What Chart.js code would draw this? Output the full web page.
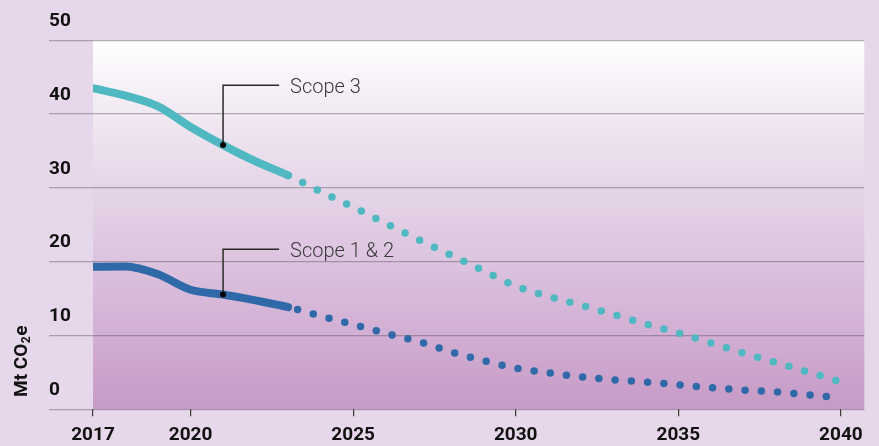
<!DOCTYPE html>
<html>
<head>
<meta charset="utf-8">
<script src="https://cdn.jsdelivr.net/npm/chart.js@4.4.1/dist/chart.umd.min.js"></script>
<style>
  html, body { margin: 0; padding: 0; background: #e7d7ea; }
  #wrap { width: 879px; height: 446px; }
</style>
</head>
<body>
<div id="wrap"><canvas id="emissions" width="879" height="446"></canvas></div>
<script>
// Emissions pathway in Mt CO2e, actuals then target path
const years = [2017, 2018, 2019, 2020, 2021, 2022, 2023, 2024, 2025, 2026, 2027, 2028,
               2029, 2030, 2031, 2032, 2033, 2034, 2035, 2036, 2037, 2038, 2039, 2040];
const scope3 = [43.5, 42.5, 41.05, 38.25, 35.8, 33.6, 31.7, 29.5, 27.4, 25.2, 23.0, 20.9,
                18.8, 16.7, 15.3, 14.1, 12.85, 11.55, 10.35, 9.0, 7.6, 6.35, 5.05, 3.7];
const scope12 = [19.3, 19.35, 18.3, 16.2, 15.55, 14.75, 13.85, 12.65, 11.5, 10.3, 9.2, 7.8,
                 6.6, 5.6, 4.95, 4.4, 4.0, 3.7, 3.3, 2.95, 2.6, 2.35, 1.95, 1.55];
const seriesNames = ['Scope 3', 'Scope 1 & 2'];
const xTicks = [2017, 2020, 2025, 2030, 2035, 2040];
const yTicks = [0, 10, 20, 30, 40, 50];
const lastActualYear = 2023;

const colors = {
    scope3: '#4fb8c1',
    scope12: '#2f69a8',
    grid: 'rgba(95, 85, 105, 0.45)',
    text: '#111111',
    leader: '#2b2b2b'
};

// solid up to the last actual year, round dots after it
function pathSegment(dashOffset) {
    const projected = c => c.p0.parsed.x >= lastActualYear;
    return {
        borderDash: c => projected(c) ? [0, 16.3] : undefined,
        borderDashOffset: c => projected(c) ? dashOffset : undefined,
        borderWidth: c => projected(c) ? 7.5 : undefined
    };
}

const plotBackground = {
    id: 'plotBackground',
    beforeDraw(chart) {
        const { ctx, chartArea: a } = chart;
        const g = ctx.createLinearGradient(0, a.top, 0, a.bottom);
        g.addColorStop(0, '#ffffff');
        g.addColorStop(0.16, '#f4edf5');
        g.addColorStop(0.3, '#ebdfed');
        g.addColorStop(0.41, '#e5d4e7');
        g.addColorStop(0.6, '#dcc4df');
        g.addColorStop(0.79, '#d2afd4');
        g.addColorStop(1, '#c69ac6');
        ctx.save();
        ctx.fillStyle = g;
        ctx.fillRect(a.left, a.top, a.right - a.left, a.bottom - a.top);
        ctx.restore();
    }
};

// leader lines with a dot on the series at 2021
const callouts = [
    { dataset: 0, year: 2021, top: 43.9 },
    { dataset: 1, year: 2021, top: 21.7 }
];

const calloutLabels = {
    id: 'calloutLabels',
    afterDatasetsDraw(chart) {
        const { ctx, scales: { x, y } } = chart;
        ctx.save();
        callouts.forEach(c => {
            const ds = chart.data.datasets[c.dataset];
            const point = ds.data.find(p => p.x === c.year);
            const px = x.getPixelForValue(c.year);
            const py = y.getPixelForValue(point.y);
            const ty = y.getPixelForValue(c.top);
            ctx.strokeStyle = colors.leader;
            ctx.lineWidth = 1.5;
            ctx.beginPath();
            ctx.moveTo(px, py);
            ctx.lineTo(px, ty);
            ctx.lineTo(px + 56, ty);
            ctx.stroke();
            ctx.fillStyle = '#000';
            ctx.beginPath();
            ctx.arc(px, py, 3, 0, Math.PI * 2);
            ctx.fill();
            ctx.fillStyle = '#3a3a3a';
            ctx.font = '300 20px Roboto';
            ctx.textBaseline = 'alphabetic';
            ctx.textAlign = 'left';
            ctx.fillText(ds.label, px + 67, ty + 7.5);
        });
        ctx.restore();
    }
};

// rotated unit label with a subscript 2
const unitTitle = {
    id: 'unitTitle',
    afterDraw(chart) {
        const { ctx } = chart;
        ctx.save();
        ctx.translate(27, 397);
        ctx.rotate(-Math.PI / 2);
        ctx.fillStyle = colors.text;
        ctx.textBaseline = 'alphabetic';
        ctx.textAlign = 'left';
        let cx = 0;
        ctx.font = 'bold 19px Roboto';
        ctx.fillText('Mt CO', cx, 0);
        cx += ctx.measureText('Mt CO').width + 0.5;
        ctx.font = 'bold 12px Roboto';
        ctx.fillText('2', cx, 3);
        cx += ctx.measureText('2').width + 0.5;
        ctx.font = 'bold 19px Roboto';
        ctx.fillText('e', cx, 0);
        ctx.restore();
    }
};

new Chart(document.getElementById('emissions'), {
    type: 'line',
    data: {
        datasets: [
            {
                label: seriesNames[0],
                data: scope3,
                borderColor: colors.scope3,
                segment: pathSegment(0)
            },
            {
                label: seriesNames[1],
                data: scope12,
                borderColor: colors.scope12,
                segment: pathSegment(6.5)
            }
        ].map(ds => ({
            ...ds,
            data: ds.data.map((v, i) => ({ x: years[i], y: v })),
            borderWidth: 8,
            borderCapStyle: 'round',
            borderJoinStyle: 'round',
            cubicInterpolationMode: 'monotone',
            pointRadius: 0,
            fill: false
        }))
    },
    options: {
        responsive: false,
        animation: false,
        devicePixelRatio: 1,
        layout: { padding: { left: 49, right: 14.7, top: 40.3, bottom: 0 } },
        plugins: {
            legend: { display: false },
            tooltip: { enabled: false }
        },
        scales: {
            x: {
                type: 'linear',
                min: 2017,
                max: 2040.72,
                afterBuildTicks: axis => { axis.ticks = xTicks.map(v => ({ value: v })); },
                afterFit: axis => { axis.height = 36.7; },
                ticks: {
                    callback: v => String(v),
                    color: colors.text,
                    font: { family: 'Roboto', size: 19, weight: 'bold' },
                    padding: 8,
                    maxRotation: 0,
                    autoSkip: false
                },
                grid: {
                    drawOnChartArea: false,
                    color: '#3a3a3a',
                    tickLength: 7,
                    lineWidth: 1.2
                },
                border: { display: false }
            },
            y: {
                min: 0,
                max: 50,
                afterBuildTicks: axis => { axis.ticks = yTicks.map(v => ({ value: v })); },
                afterFit: axis => { axis.width = 44; },
                ticks: {
                    color: colors.text,
                    font: { family: 'Roboto', size: 19, weight: 'bold' },
                    crossAlign: 'far',
                    labelOffset: -19
                },
                grid: {
                    color: colors.grid,
                    lineWidth: 1.2,
                    tickLength: 44
                },
                border: { display: false }
            }
        }
    },
    plugins: [plotBackground, calloutLabels, unitTitle]
});
</script>
</body>
</html>
